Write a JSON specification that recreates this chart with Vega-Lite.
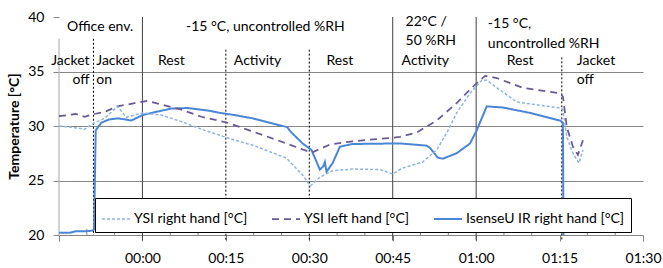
{
  "$schema": "https://vega.github.io/schema/vega-lite/v6.json",
  "width": 584,
  "height": 218,
  "autosize": "none",
  "padding": {"left": 59, "top": 17, "right": 20, "bottom": 33},
  "background": "white",
  "config": {
    "view": {"stroke": null},
    "font": "Lato",
    "text": {"font": "Lato", "fontSize": 14, "color": "#000"},
    "legend": {
      "orient": "none", "legendX": 36, "legendY": 181, "direction": "horizontal",
      "strokeColor": "#000", "fillColor": "white", "padding": 6,
      "symbolType": "stroke", "symbolSize": 784, "symbolStrokeWidth": 1.75,
      "labelFontSize": 14, "labelFont": "Lato", "labelColor": "#000", "columnPadding": 20, "labelOffset": 3
    }
  },
  "datasets": {
    "lines": [
      {"series": "IsenseU IR right hand [°C]", "t": -15, "v": 20.2},
      {"series": "IsenseU IR right hand [°C]", "t": -13, "v": 20.2},
      {"series": "IsenseU IR right hand [°C]", "t": -12, "v": 20.35},
      {"series": "IsenseU IR right hand [°C]", "t": -10, "v": 20.35},
      {"series": "IsenseU IR right hand [°C]", "t": -9, "v": 20.4},
      {"series": "IsenseU IR right hand [°C]", "t": -8.7, "v": 20.5},
      {"series": "IsenseU IR right hand [°C]", "t": -8.4, "v": 29.6},
      {"series": "IsenseU IR right hand [°C]", "t": -7.4, "v": 30.3},
      {"series": "IsenseU IR right hand [°C]", "t": -6, "v": 30.6},
      {"series": "IsenseU IR right hand [°C]", "t": -4.5, "v": 30.7},
      {"series": "IsenseU IR right hand [°C]", "t": -3, "v": 30.6},
      {"series": "IsenseU IR right hand [°C]", "t": -2, "v": 30.5},
      {"series": "IsenseU IR right hand [°C]", "t": 0, "v": 31.0},
      {"series": "IsenseU IR right hand [°C]", "t": 2.5, "v": 31.3},
      {"series": "IsenseU IR right hand [°C]", "t": 5.2, "v": 31.6},
      {"series": "IsenseU IR right hand [°C]", "t": 8.1, "v": 31.65},
      {"series": "IsenseU IR right hand [°C]", "t": 12, "v": 31.4},
      {"series": "IsenseU IR right hand [°C]", "t": 14, "v": 31.2},
      {"series": "IsenseU IR right hand [°C]", "t": 16.6, "v": 31.0},
      {"series": "IsenseU IR right hand [°C]", "t": 19.8, "v": 30.7},
      {"series": "IsenseU IR right hand [°C]", "t": 26, "v": 29.9},
      {"series": "IsenseU IR right hand [°C]", "t": 26.8, "v": 29.4},
      {"series": "IsenseU IR right hand [°C]", "t": 28.8, "v": 28.4},
      {"series": "IsenseU IR right hand [°C]", "t": 30.4, "v": 27.8},
      {"series": "IsenseU IR right hand [°C]", "t": 31.9, "v": 26.0},
      {"series": "IsenseU IR right hand [°C]", "t": 32.5, "v": 26.3},
      {"series": "IsenseU IR right hand [°C]", "t": 32.8, "v": 26.7},
      {"series": "IsenseU IR right hand [°C]", "t": 33.1, "v": 25.8},
      {"series": "IsenseU IR right hand [°C]", "t": 34.2, "v": 26.6},
      {"series": "IsenseU IR right hand [°C]", "t": 35.5, "v": 28.1},
      {"series": "IsenseU IR right hand [°C]", "t": 37.8, "v": 28.35},
      {"series": "IsenseU IR right hand [°C]", "t": 46.3, "v": 28.4},
      {"series": "IsenseU IR right hand [°C]", "t": 51.1, "v": 28.2},
      {"series": "IsenseU IR right hand [°C]", "t": 51.7, "v": 28.0},
      {"series": "IsenseU IR right hand [°C]", "t": 53.1, "v": 27.1},
      {"series": "IsenseU IR right hand [°C]", "t": 54, "v": 27.0},
      {"series": "IsenseU IR right hand [°C]", "t": 56.5, "v": 27.5},
      {"series": "IsenseU IR right hand [°C]", "t": 58.9, "v": 28.4},
      {"series": "IsenseU IR right hand [°C]", "t": 60.1, "v": 29.6},
      {"series": "IsenseU IR right hand [°C]", "t": 61, "v": 30.7},
      {"series": "IsenseU IR right hand [°C]", "t": 61.9, "v": 31.8},
      {"series": "IsenseU IR right hand [°C]", "t": 64.8, "v": 31.7},
      {"series": "IsenseU IR right hand [°C]", "t": 69.7, "v": 31.2},
      {"series": "IsenseU IR right hand [°C]", "t": 75.1, "v": 30.5},
      {"series": "IsenseU IR right hand [°C]", "t": 75.6, "v": 30.3},
      {"series": "IsenseU IR right hand [°C]", "t": 75.7, "v": 20.0},

      {"series": "YSI left hand [°C]", "t": -15, "v": 30.9},
      {"series": "YSI left hand [°C]", "t": -12, "v": 31.1},
      {"series": "YSI left hand [°C]", "t": -10.4, "v": 30.85},
      {"series": "YSI left hand [°C]", "t": -8.6, "v": 31.1},
      {"series": "YSI left hand [°C]", "t": -6.8, "v": 31.3},
      {"series": "YSI left hand [°C]", "t": -4.5, "v": 31.8},
      {"series": "YSI left hand [°C]", "t": -1.4, "v": 32.1},
      {"series": "YSI left hand [°C]", "t": 0.9, "v": 32.3},
      {"series": "YSI left hand [°C]", "t": 4, "v": 31.9},
      {"series": "YSI left hand [°C]", "t": 7, "v": 31.5},
      {"series": "YSI left hand [°C]", "t": 10.6, "v": 30.85},
      {"series": "YSI left hand [°C]", "t": 15.3, "v": 30.3},
      {"series": "YSI left hand [°C]", "t": 19.8, "v": 29.5},
      {"series": "YSI left hand [°C]", "t": 25.9, "v": 28.4},
      {"series": "YSI left hand [°C]", "t": 30.4, "v": 27.55},
      {"series": "YSI left hand [°C]", "t": 33.7, "v": 28.3},
      {"series": "YSI left hand [°C]", "t": 37.8, "v": 28.6},
      {"series": "YSI left hand [°C]", "t": 44.5, "v": 28.9},
      {"series": "YSI left hand [°C]", "t": 46.3, "v": 29.0},
      {"series": "YSI left hand [°C]", "t": 49.3, "v": 29.4},
      {"series": "YSI left hand [°C]", "t": 52.9, "v": 30.5},
      {"series": "YSI left hand [°C]", "t": 56.5, "v": 32.1},
      {"series": "YSI left hand [°C]", "t": 59.4, "v": 33.6},
      {"series": "YSI left hand [°C]", "t": 61.6, "v": 34.6},
      {"series": "YSI left hand [°C]", "t": 63.7, "v": 34.4},
      {"series": "YSI left hand [°C]", "t": 68.4, "v": 33.5},
      {"series": "YSI left hand [°C]", "t": 75.1, "v": 33.0},
      {"series": "YSI left hand [°C]", "t": 75.6, "v": 32.7},
      {"series": "YSI left hand [°C]", "t": 76.3, "v": 29.9},
      {"series": "YSI left hand [°C]", "t": 77.4, "v": 28.1},
      {"series": "YSI left hand [°C]", "t": 78.3, "v": 27.35},
      {"series": "YSI left hand [°C]", "t": 79.2, "v": 28.7},

      {"series": "YSI right hand [°C]", "t": -15, "v": 30.0},
      {"series": "YSI right hand [°C]", "t": -12.2, "v": 29.85},
      {"series": "YSI right hand [°C]", "t": -10.4, "v": 29.7},
      {"series": "YSI right hand [°C]", "t": -8.6, "v": 30.3},
      {"series": "YSI right hand [°C]", "t": -6.8, "v": 30.7},
      {"series": "YSI right hand [°C]", "t": -4.5, "v": 31.8},
      {"series": "YSI right hand [°C]", "t": -2.9, "v": 30.8},
      {"series": "YSI right hand [°C]", "t": 0, "v": 31.2},
      {"series": "YSI right hand [°C]", "t": 3.4, "v": 31.0},
      {"series": "YSI right hand [°C]", "t": 7, "v": 30.4},
      {"series": "YSI right hand [°C]", "t": 11.2, "v": 29.6},
      {"series": "YSI right hand [°C]", "t": 16.6, "v": 28.7},
      {"series": "YSI right hand [°C]", "t": 19.8, "v": 28.25},
      {"series": "YSI right hand [°C]", "t": 25.9, "v": 27.05},
      {"series": "YSI right hand [°C]", "t": 28.8, "v": 25.5},
      {"series": "YSI right hand [°C]", "t": 30.2, "v": 24.5},
      {"series": "YSI right hand [°C]", "t": 31.9, "v": 25.3},
      {"series": "YSI right hand [°C]", "t": 34.2, "v": 25.9},
      {"series": "YSI right hand [°C]", "t": 37.8, "v": 26.05},
      {"series": "YSI right hand [°C]", "t": 42.7, "v": 26.0},
      {"series": "YSI right hand [°C]", "t": 45, "v": 25.6},
      {"series": "YSI right hand [°C]", "t": 46.8, "v": 26.15},
      {"series": "YSI right hand [°C]", "t": 50.4, "v": 26.7},
      {"series": "YSI right hand [°C]", "t": 52.9, "v": 27.8},
      {"series": "YSI right hand [°C]", "t": 54.7, "v": 29.35},
      {"series": "YSI right hand [°C]", "t": 56.5, "v": 31.2},
      {"series": "YSI right hand [°C]", "t": 58.9, "v": 33.0},
      {"series": "YSI right hand [°C]", "t": 61, "v": 34.2},
      {"series": "YSI right hand [°C]", "t": 61.9, "v": 34.2},
      {"series": "YSI right hand [°C]", "t": 64.3, "v": 33.3},
      {"series": "YSI right hand [°C]", "t": 67.3, "v": 32.2},
      {"series": "YSI right hand [°C]", "t": 71.5, "v": 31.9},
      {"series": "YSI right hand [°C]", "t": 75.1, "v": 31.65},
      {"series": "YSI right hand [°C]", "t": 75.6, "v": 31.5},
      {"series": "YSI right hand [°C]", "t": 76.3, "v": 29.0},
      {"series": "YSI right hand [°C]", "t": 77.4, "v": 27.5},
      {"series": "YSI right hand [°C]", "t": 78.5, "v": 26.6},
      {"series": "YSI right hand [°C]", "t": 79.2, "v": 27.8}
    ],
    "rules": [
      {"kind": "gray", "t": -15, "v": 38, "v2": 20},
      {"kind": "dotted", "t": -8.8, "v": 38, "v2": 20},
      {"kind": "solid", "t": 0, "v": 40, "v2": 19.5},
      {"kind": "dotted", "t": 15, "v": 37, "v2": 19.5},
      {"kind": "dotted", "t": 30, "v": 37, "v2": 19.5},
      {"kind": "solid", "t": 45, "v": 40, "v2": 19.5},
      {"kind": "solid", "t": 60, "v": 40, "v2": 19.5},
      {"kind": "dotted", "t": 75.4, "v": 36.3, "v2": 19.5}
    ],
    "minor": [
      {"t": -10, "v": 20, "v2": 20.55}, {"t": -5, "v": 20, "v2": 20.55},
      {"t": 5, "v": 20, "v2": 20.55}, {"t": 10, "v": 20, "v2": 20.55},
      {"t": 20, "v": 20, "v2": 20.55}, {"t": 25, "v": 20, "v2": 20.55},
      {"t": 35, "v": 20, "v2": 20.55}, {"t": 40, "v": 20, "v2": 20.55},
      {"t": 50, "v": 20, "v2": 20.55}, {"t": 55, "v": 20, "v2": 20.55},
      {"t": 65, "v": 20, "v2": 20.55}, {"t": 70, "v": 20, "v2": 20.55},
      {"t": 80, "v": 20, "v2": 20.55}, {"t": 85, "v": 20, "v2": 20.55}
    ],
    "texts": [
      {"label": "Office env.", "t": -7.6, "v": 39.08, "al": "c"},
      {"label": "-15 °C, uncontrolled %RH", "t": 22.1, "v": 39.08, "al": "c"},
      {"label": "22°C /", "t": 47.3, "v": 39.5, "al": "l"},
      {"label": "50 %RH", "t": 47.3, "v": 37.8, "al": "l"},
      {"label": "Activity", "t": 46.6, "v": 35.96, "al": "l"},
      {"label": "-15 °C,", "t": 62.1, "v": 39.36, "al": "l"},
      {"label": "uncontrolled %RH", "t": 62.1, "v": 37.5, "al": "l"},
      {"label": "Rest", "t": 65.5, "v": 35.96, "al": "l"},
      {"label": "Jacket", "t": 78.1, "v": 35.96, "al": "l"},
      {"label": "off", "t": 78.1, "v": 34.2, "al": "l"},
      {"label": "Jacket", "t": -9.5, "v": 35.96, "al": "r"},
      {"label": "off", "t": -9.5, "v": 34.2, "al": "r"},
      {"label": "Jacket", "t": -8.3, "v": 35.96, "al": "l"},
      {"label": "on", "t": -8.3, "v": 34.2, "al": "l"},
      {"label": "Rest", "t": 5.2, "v": 35.96, "al": "c"},
      {"label": "Activity", "t": 20.7, "v": 35.96, "al": "c"},
      {"label": "Rest", "t": 35.5, "v": 35.96, "al": "c"}
    ]
  },
  "encoding": {
    "x": {
      "field": "t", "type": "quantitative",
      "scale": {"domain": [-15, 90], "nice": false, "zero": false},
      "axis": {
        "values": [-15, 0, 15, 30, 45, 60, 75, 90],
        "labelExpr": "datum.value < 0 ? '' : (floor(datum.value/60) < 10 ? '0' : '') + floor(datum.value/60) + ':' + (datum.value % 60 < 10 ? '0' : '') + (datum.value % 60)",
        "title": null, "grid": false,
        "domainColor": "#868686", "tickColor": "#868686", "tickSize": 6,
        "labelFont": "Lato", "labelFontSize": 14, "labelColor": "#000", "labelPadding": 10,
        "labelFlush": false
      }
    },
    "y": {
      "field": "v", "type": "quantitative",
      "scale": {"domain": [20, 40], "nice": false, "zero": false},
      "axis": {
        "values": [20, 25, 30, 35, 40],
        "title": "Temperature [°C]", "titleFont": "Lato", "titleFontSize": 14, "titleFontWeight": "bold", "titleColor": "#000", "titlePadding": 6,
        "grid": true,
        "gridColor": {"condition": {"test": "datum.value === 40 || datum.value === 20", "value": "transparent"}, "value": "#868686"},
        "domain": false, "tickColor": "#868686", "tickSize": 6,
        "labelFont": "Lato", "labelFontSize": 14, "labelColor": "#000", "labelPadding": 9
      }
    }
  },
  "layer": [
    {
      "data": {"name": "rules"},
      "transform": [{"filter": "datum.kind === 'gray'"}],
      "mark": {"type": "rule", "color": "#a6a6a6", "strokeWidth": 1},
      "encoding": {"y2": {"field": "v2"}}
    },
    {
      "data": {"name": "rules"},
      "transform": [{"filter": "datum.kind === 'dotted'"}],
      "mark": {"type": "rule", "color": "#000", "strokeWidth": 1, "strokeDash": [2, 2]},
      "encoding": {"y2": {"field": "v2"}}
    },
    {
      "data": {"name": "rules"},
      "transform": [{"filter": "datum.kind === 'solid'"}],
      "mark": {"type": "rule", "color": "#404040", "strokeWidth": 1},
      "encoding": {"y2": {"field": "v2"}}
    },
    {
      "data": {"name": "minor"},
      "mark": {"type": "rule", "color": "#868686", "strokeWidth": 1},
      "encoding": {"y2": {"field": "v2"}}
    },
    {
      "data": {"name": "lines"},
      "mark": {"type": "line", "interpolate": "linear", "clip": true},
      "encoding": {
        "color": {
          "field": "series", "type": "nominal",
          "scale": {"domain": ["YSI right hand [°C]", "YSI left hand [°C]", "IsenseU IR right hand [°C]"], "range": ["#8db4e2", "#6a5a94", "#4a86d6"]},
          "legend": {"title": null}
        },
        "strokeDash": {
          "field": "series", "type": "nominal",
          "scale": {"domain": ["YSI right hand [°C]", "YSI left hand [°C]", "IsenseU IR right hand [°C]"], "range": [[3, 2], [7, 5], [1, 0]]},
          "legend": {"title": null}
        },
        "strokeWidth": {
          "field": "series", "type": "nominal",
          "scale": {"domain": ["YSI right hand [°C]", "YSI left hand [°C]", "IsenseU IR right hand [°C]"], "range": [1.5, 2, 1.75]},
          "legend": null
        }
      }
    },
    {
      "data": {"name": "texts"},
      "transform": [{"filter": "datum.al === 'c'"}],
      "mark": {"type": "text", "align": "center", "baseline": "middle"},
      "encoding": {"text": {"field": "label"}}
    },
    {
      "data": {"name": "texts"},
      "transform": [{"filter": "datum.al === 'l'"}],
      "mark": {"type": "text", "align": "left", "baseline": "middle"},
      "encoding": {"text": {"field": "label"}}
    },
    {
      "data": {"name": "texts"},
      "transform": [{"filter": "datum.al === 'r'"}],
      "mark": {"type": "text", "align": "right", "baseline": "middle"},
      "encoding": {"text": {"field": "label"}}
    }
  ]
}
